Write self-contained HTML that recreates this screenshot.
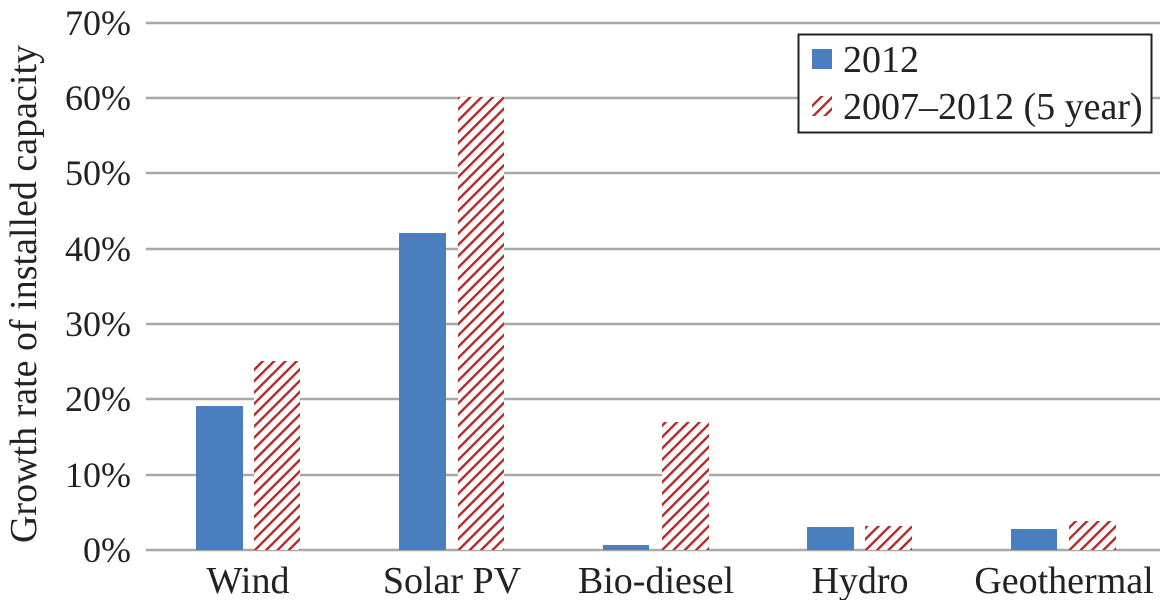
<!DOCTYPE html>
<html><head><style>body{margin:0;background:#fff}svg{display:block}text{font-family:"Liberation Serif",serif;fill:#222}</style></head><body>
<svg width="1167" height="600" viewBox="0 0 1167 600">
<defs><pattern id="h" patternUnits="userSpaceOnUse" width="8" height="8" patternTransform="rotate(45)"><rect width="8" height="8" fill="#fff"/><rect x="0" y="0" width="2.4" height="8" fill="#b22a2a"/></pattern></defs>
<g stroke="#a8a8a8" stroke-width="2.5">
<line x1="146" x2="1160" y1="550" y2="550"/><line x1="146" x2="1160" y1="475" y2="475"/><line x1="146" x2="1160" y1="399" y2="399"/><line x1="146" x2="1160" y1="324" y2="324"/><line x1="146" x2="1160" y1="249" y2="249"/><line x1="146" x2="1160" y1="173" y2="173"/><line x1="146" x2="1160" y1="98" y2="98"/><line x1="146" x2="1160" y1="23" y2="23"/>
</g>
<g font-size="36" text-anchor="end">
<text x="131" y="562">0%</text><text x="131" y="487">10%</text><text x="131" y="411">20%</text><text x="131" y="336">30%</text><text x="131" y="261">40%</text><text x="131" y="185">50%</text><text x="131" y="110">60%</text><text x="131" y="35">70%</text>
</g>
<text transform="translate(36,294) rotate(-90)" font-size="38" text-anchor="middle">Growth rate of installed capacity</text>
<g fill="#4a7ebf">
<rect x="196" y="406" width="47" height="144"/><rect x="399" y="233" width="47" height="317"/><rect x="603" y="545" width="46" height="5"/><rect x="807" y="527" width="47" height="23"/><rect x="1011" y="529" width="46" height="21"/>
</g>
<g fill="url(#h)">
<rect x="254" y="361" width="46" height="189"/><rect x="458" y="97" width="46" height="453"/><rect x="662" y="422" width="47" height="128"/><rect x="865" y="526" width="47" height="24"/><rect x="1069" y="521" width="47" height="29"/>
</g>
<g font-size="38" text-anchor="middle">
<text x="248" y="593">Wind</text><text x="452" y="593">Solar PV</text><text x="656" y="593">Bio-diesel</text><text x="860" y="593">Hydro</text><text x="1064" y="593">Geothermal</text>
</g>
<rect x="798.5" y="34.5" width="353" height="98" fill="#fff" stroke="#222" stroke-width="2"/>
<rect x="812" y="49" width="20" height="20" fill="#4a7ebf"/>
<rect x="812" y="96" width="20" height="20" fill="url(#h)"/>
<text x="843" y="72" font-size="38">2012</text>
<text x="843" y="119" font-size="38">2007–2012 (5 year)</text>
</svg>
</body></html>
